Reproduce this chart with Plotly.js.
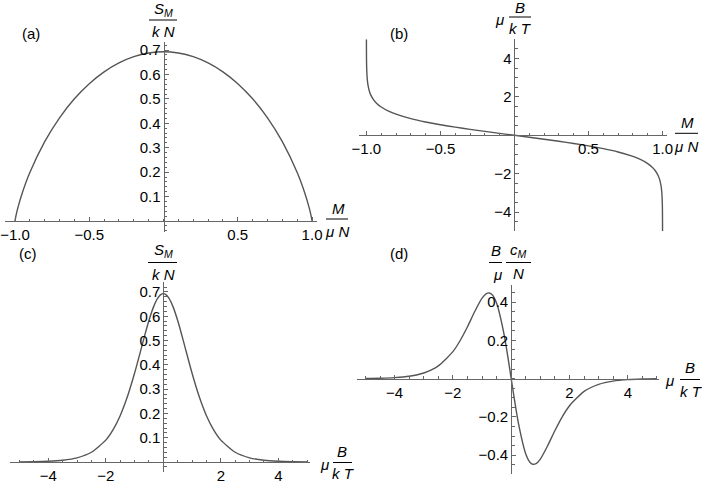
<!DOCTYPE html>
<html><head><meta charset="utf-8">
<script src="https://cdn.plot.ly/plotly-3.0.1.min.js"></script>
<style>html,body{margin:0;padding:0;background:#fff}#chart{width:708px;height:483px}</style>
</head><body><div id="chart"></div>
<script>
// ---- data ----
// (a) entropy vs magnetization
const aM = [-1, -0.999, -0.995, -0.99, -0.98, -0.95, -0.9, -0.8, -0.7, -0.6, -0.5, -0.4, -0.3, -0.2, -0.1, 0,
            0.1, 0.2, 0.3, 0.4, 0.5, 0.6, 0.7, 0.8, 0.9, 0.95, 0.98, 0.99, 0.995, 0.999, 1];
const aS = [0, 0.0043, 0.0175, 0.0315, 0.056, 0.1169, 0.1985, 0.3251, 0.4227, 0.5004, 0.5623, 0.6109, 0.6474, 0.673, 0.688, 0.6931,
            0.688, 0.673, 0.6474, 0.6109, 0.5623, 0.5004, 0.4227, 0.3251, 0.1985, 0.1169, 0.056, 0.0315, 0.0175, 0.0043, 0];
// (b) field vs magnetization
const bM = [-0.99991, -0.9999, -0.9995, -0.999, -0.998, -0.995, -0.99, -0.98, -0.97, -0.95, -0.93, -0.9, -0.85, -0.8, -0.7, -0.6, -0.5, -0.4, -0.3, -0.2, -0.1, 0,
            0.1, 0.2, 0.3, 0.4, 0.5, 0.6, 0.7, 0.8, 0.85, 0.9, 0.93, 0.95, 0.97, 0.98, 0.99, 0.995, 0.998, 0.999, 0.9995, 0.9999, 0.99991];
const bB = [5, 4.952, 4.147, 3.8, 3.453, 2.995, 2.647, 2.298, 2.092, 1.832, 1.658, 1.472, 1.256, 1.099, 0.867, 0.693, 0.549, 0.424, 0.31, 0.203, 0.1, 0,
            -0.1, -0.203, -0.31, -0.424, -0.549, -0.693, -0.867, -1.099, -1.256, -1.472, -1.658, -1.832, -2.092, -2.298, -2.647, -2.995, -3.453, -3.8, -4.147, -4.952, -5];
// (c) entropy vs field
const cX = [-5, -4.5, -4, -3.5, -3, -2.5, -2, -1.75, -1.5, -1.25, -1, -0.75, -0.625, -0.5, -0.35, -0.2, -0.1, 0,
            0.1, 0.2, 0.35, 0.5, 0.625, 0.75, 1, 1.25, 1.5, 1.75, 2, 2.5, 3, 3.5, 4, 4.5, 5];
const cS = [0.0005, 0.0012, 0.003, 0.0073, 0.0173, 0.0402, 0.0901, 0.1323, 0.1909, 0.2685, 0.3653, 0.475, 0.5303, 0.5822, 0.6355, 0.6735, 0.6882, 0.6931,
            0.6882, 0.6735, 0.6355, 0.5822, 0.5303, 0.475, 0.3653, 0.2685, 0.1909, 0.1323, 0.0901, 0.0402, 0.0173, 0.0073, 0.003, 0.0012, 0.0005];
// (d) (B/mu) c_M / N vs field
const dX = [-5, -4.5, -4, -3.5, -3, -2.5, -2, -1.75, -1.5, -1.25, -1, -0.85, -0.75, -0.65, -0.5, -0.25, -0.1, 0,
            0.1, 0.25, 0.5, 0.65, 0.75, 0.85, 1, 1.25, 1.5, 1.75, 2, 2.5, 3, 3.5, 4, 4.5, 5];
const dC = [0.0009, 0.0022, 0.0054, 0.0127, 0.0296, 0.0665, 0.1413, 0.1992, 0.2711, 0.3505, 0.42, 0.4441, 0.4474, 0.4376, 0.3932, 0.235, 0.099, 0,
            -0.099, -0.235, -0.3932, -0.4376, -0.4474, -0.4441, -0.42, -0.3505, -0.2711, -0.1992, -0.1413, -0.0665, -0.0296, -0.0127, -0.0054, -0.0022, -0.0009];

// tick labels
const aXt = [-1, -0.5, 0.5, 1], aXl = ["\u22121.0", "\u22120.5", "0.5", "1.0"];
const aYt = [0.1, 0.2, 0.3, 0.4, 0.5, 0.6, 0.7], aYl = ["0.1", "0.2", "0.3", "0.4", "0.5", "0.6", "0.7"];
const bYt = [-4, -2, 2, 4], bYl = ["\u22124", "\u22122", "2", "4"];
const cXt = [-4, -2, 2, 4], cXl = ["\u22124", "\u22122", "2", "4"];
const dYt = [-0.4, -0.2, 0.2, 0.4], dYl = ["\u22120.4", "\u22120.2", "0.2", "0.4"];

// ---- layout helpers ----
const W = 708, H = 483;
const px = x => x / W, py = y => 1 - y / H;
const FONT = "Liberation Sans, Arial, sans-serif";
const AX = "#666666", CURVE = "#555555";
const TF = {family: FONT, size: 15, color: "#000"};

const panels = [
  {id: "", x: aM, y: aS, xr: [-1.07, 1.03], xpx: [4.6, 316.5], yr: [-0.045, 0.733], ypx: [42, 232],
   xt: aXt, xl: aXl, xm: 0.1, yt: aYt, yl: aYl, ym: 0.02},
  {id: "2", x: bM, y: bB, xr: [-1.05, 1.03], xpx: [359, 667], yr: [-5, 5], ypx: [39.3, 231.3],
   xt: aXt, xl: aXl, xm: 0.1, yt: bYt, yl: bYl, ym: 0.5},
  {id: "3", x: cX, y: cS, xr: [-5.33, 5.10], xpx: [10, 310], yr: [-0.041, 0.741], ypx: [282, 472],
   xt: cXt, xl: cXl, xm: 0.5, yt: aYt, yl: aYl, ym: 0.02},
  {id: "4", x: dX, y: dC, xr: [-5.29, 5.07], xpx: [357, 659], yr: [-0.498, 0.489], ypx: [285, 474],
   xt: cXt, xl: cXl, xm: 0.5, yt: dYt, yl: dYl, ym: 0.05}
];

const data = [];
const layout = {
  width: W, height: H, margin: {l: 0, r: 0, t: 0, b: 0},
  paper_bgcolor: "#fff", plot_bgcolor: "rgba(0,0,0,0)", showlegend: false,
  font: TF, annotations: [], shapes: []
};

panels.forEach(p => {
  const xd = [px(p.xpx[0]), px(p.xpx[1])];
  const yd = [py(p.ypx[1]), py(p.ypx[0])];
  const xZero = xd[0] + (0 - p.xr[0]) / (p.xr[1] - p.xr[0]) * (xd[1] - xd[0]);
  const yZero = yd[0] + (0 - p.yr[0]) / (p.yr[1] - p.yr[0]) * (yd[1] - yd[0]);
  data.push({x: p.x, y: p.y, type: "scatter", mode: "lines", xaxis: "x" + p.id, yaxis: "y" + p.id,
             line: {color: CURVE, width: 1.4, shape: "spline", smoothing: 0.6}, hoverinfo: "skip"});
  const common = {showgrid: false, zeroline: false, showline: true, linecolor: AX, linewidth: 1,
                  ticks: "inside", ticklen: 4, tickcolor: AX, tickwidth: 1, tickmode: "array",
                  tickfont: TF, fixedrange: true, anchor: "free"};
  layout["xaxis" + p.id] = Object.assign({}, common, {
    domain: xd, range: p.xr, position: yZero, side: "bottom",
    tickvals: p.xt, ticktext: p.xl,
    minor: {ticks: "inside", ticklen: 2.5, tickcolor: AX, tickwidth: 1, tickmode: "linear", tick0: 0, dtick: p.xm}
  });
  layout["yaxis" + p.id] = Object.assign({}, common, {
    domain: yd, range: p.yr, position: xZero, side: "left",
    tickvals: p.yt, ticktext: p.yl,
    minor: {ticks: "inside", ticklen: 2.5, tickcolor: AX, tickwidth: 1, tickmode: "linear", tick0: 0, dtick: p.ym}
  });
});

// ---- text labels (fractions) ----
function txt(t, x, y) {
  layout.annotations.push({text: t, x: px(x), y: py(y), xref: "paper", yref: "paper",
    xanchor: "center", yanchor: "middle", showarrow: false, font: TF});
}
function bar(x0, x1, y) {
  layout.shapes.push({type: "line", xref: "paper", yref: "paper", x0: px(x0), x1: px(x1), y0: py(y), y1: py(y),
    line: {color: "#000", width: 1}});
}
// panel tags
txt("(a)", 31, 33); txt("(b)", 399, 33); txt("(c)", 28, 254); txt("(d)", 399, 254);
// (a)
txt("<i>S<sub>M</sub></i>", 163, 10); bar(149, 177, 20); txt("<i>k N</i>", 163, 31);
txt("<i>M</i>", 338, 208); bar(326, 348, 219); txt("<i>μ N</i>", 337, 232);
// (b)
txt("<i>μ</i>", 499, 19); txt("<i>B</i>", 520, 8); bar(509, 531, 17); txt("<i>k T</i>", 520, 29);
txt("<i>M</i>", 687, 122); bar(675, 698, 133.3); txt("<i>μ N</i>", 686, 146);
// (c)
txt("<i>S<sub>M</sub></i>", 163, 251); bar(148, 177, 262.5); txt("<i>k N</i>", 163, 274);
txt("<i>μ</i>", 324, 464); txt("<i>B</i>", 342, 451); bar(333, 352, 462.5); txt("<i>k T</i>", 343, 473);
// (d)
txt("<i>B</i>", 496, 251); bar(489, 502, 262.5); txt("<i>μ</i>", 497, 274);
txt("<i>c<sub>M</sub></i>", 518, 251); bar(506, 531, 262.5); txt("<i>N</i>", 518, 273);
txt("<i>μ</i>", 669, 380); txt("<i>B</i>", 690, 367); bar(680, 700, 379.5); txt("<i>k T</i>", 691, 391);

Plotly.newPlot("chart", data, layout, {staticPlot: true, displayModeBar: false});
</script></body></html>
